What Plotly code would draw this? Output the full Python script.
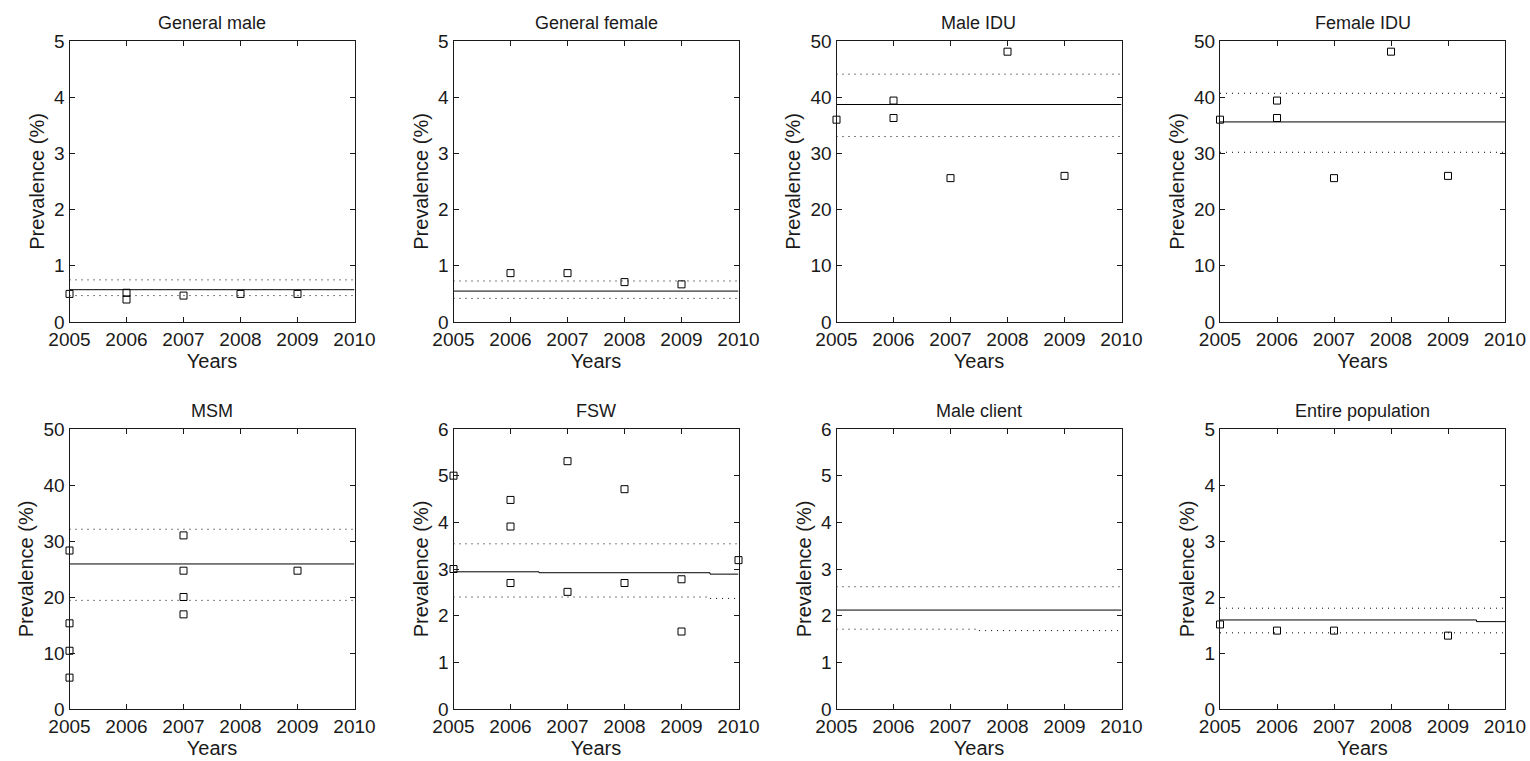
import plotly.graph_objects as go

# ---------------- data ----------------
titles = ["General male", "General female", "Male IDU", "Female IDU",
          "MSM", "FSW", "Male client", "Entire population"]

# observed prevalence points (year, value)
gm_years = [2005, 2006, 2006, 2007, 2008, 2009]
gm_vals = [0.50, 0.52, 0.40, 0.47, 0.50, 0.50]

gf_years = [2006, 2007, 2008, 2009]
gf_vals = [0.87, 0.87, 0.71, 0.67]

midu_years = [2005, 2006, 2006, 2007, 2008, 2009]
midu_vals = [36.0, 39.4, 36.3, 25.6, 48.1, 26.0]

fidu_years = [2005, 2006, 2006, 2007, 2008, 2009]
fidu_vals = [36.0, 39.4, 36.3, 25.6, 48.1, 26.0]

msm_years = [2005, 2005, 2005, 2005, 2007, 2007, 2007, 2007, 2009]
msm_vals = [28.3, 15.3, 10.4, 5.6, 31.0, 24.7, 20.0, 16.9, 24.7]

fsw_years = [2005, 2005, 2006, 2006, 2006, 2007, 2007, 2008, 2008, 2009, 2009, 2010]
fsw_vals = [5.0, 3.0, 4.48, 3.91, 2.70, 5.31, 2.51, 4.71, 2.70, 2.78, 1.66, 3.19]

mc_years = []
mc_vals = []

ep_years = [2005, 2006, 2007, 2009]
ep_vals = [1.51, 1.40, 1.40, 1.31]

# model fit (median and bounds), step-wise in time
gm_fit_x = [2005, 2010]
gm_mid = [0.575, 0.575]
gm_hi = [0.75, 0.75]
gm_lo = [0.47, 0.47]

gf_fit_x = [2005, 2010]
gf_mid = [0.55, 0.55]
gf_hi = [0.73, 0.73]
gf_lo = [0.42, 0.42]

midu_fit_x = [2005, 2010]
midu_mid = [38.7, 38.7]
midu_hi = [44.1, 44.1]
midu_lo = [33.0, 33.0]

fidu_fit_x = [2005, 2010]
fidu_mid = [35.6, 35.6]
fidu_hi = [40.7, 40.7]
fidu_lo = [30.2, 30.2]

msm_fit_x = [2005, 2010]
msm_mid = [25.9, 25.9]
msm_hi = [32.1, 32.1]
msm_lo = [19.4, 19.4]

fsw_fit_x = [2005, 2006.5, 2009.5, 2010]
fsw_mid = [2.94, 2.92, 2.89, 2.89]
fsw_hi = [3.54, 3.54, 3.54, 3.54]
fsw_lo = [2.40, 2.40, 2.37, 2.37]

mc_fit_x = [2005, 2007.5, 2010]
mc_mid = [2.12, 2.12, 2.12]
mc_hi = [2.62, 2.62, 2.62]
mc_lo = [1.71, 1.68, 1.68]

ep_fit_x = [2005, 2009.5, 2010]
ep_mid = [1.59, 1.56, 1.56]
ep_hi = [1.80, 1.80, 1.80]
ep_lo = [1.36, 1.36, 1.36]

y_max = [5, 5, 50, 50, 50, 6, 6, 5]
y_step = [1, 1, 10, 10, 10, 1, 1, 1]
x_ticks = [2005, 2006, 2007, 2008, 2009, 2010]

panels = [
    (gm_years, gm_vals, gm_fit_x, gm_mid, gm_hi, gm_lo),
    (gf_years, gf_vals, gf_fit_x, gf_mid, gf_hi, gf_lo),
    (midu_years, midu_vals, midu_fit_x, midu_mid, midu_hi, midu_lo),
    (fidu_years, fidu_vals, fidu_fit_x, fidu_mid, fidu_hi, fidu_lo),
    (msm_years, msm_vals, msm_fit_x, msm_mid, msm_hi, msm_lo),
    (fsw_years, fsw_vals, fsw_fit_x, fsw_mid, fsw_hi, fsw_lo),
    (mc_years, mc_vals, mc_fit_x, mc_mid, mc_hi, mc_lo),
    (ep_years, ep_vals, ep_fit_x, ep_mid, ep_hi, ep_lo),
]

# ---------------- layout ----------------
W, H = 1530, 761
col_px = [(69.5, 354.5), (453.5, 738.5), (836.5, 1121.5), (1220, 1505)]
row_px = [(41, 322), (429, 709)]

FONT = "Liberation Sans, Arial, Helvetica, sans-serif"
INK = "#1a1a1a"

fig = go.Figure()
layout = dict(
    width=W, height=H,
    margin=dict(l=0, r=0, t=0, b=0, autoexpand=False),
    paper_bgcolor="white", plot_bgcolor="white",
    showlegend=False,
    font=dict(family=FONT, size=19, color=INK),
    annotations=[],
)

for i, (yrs, vals, fx, fmid, fhi, flo) in enumerate(panels):
    r, c = divmod(i, 4)
    n = "" if i == 0 else str(i + 1)
    xa, ya = "x" + n, "y" + n
    x0, x1 = col_px[c]
    t0, t1 = row_px[r]

    for arr, dash in ((fhi, "1px,5px"), (flo, "1px,5px"), (fmid, "solid")):
        fig.add_trace(go.Scatter(
            x=fx, y=arr, mode="lines", line_shape="hv",
            line=dict(color="black", width=1, dash=dash),
            xaxis=xa, yaxis=ya, hoverinfo="skip"))
    if yrs:
        fig.add_trace(go.Scatter(
            x=yrs, y=vals, mode="markers", cliponaxis=False,
            marker=dict(symbol="square-open", size=7,
                        color="black", line=dict(color="black", width=1)),
            xaxis=xa, yaxis=ya))

    axis_common = dict(
        showline=True, linecolor=INK, linewidth=1, mirror="ticks",
        ticks="inside", ticklen=5, tickcolor=INK, tickwidth=1,
        showgrid=False, zeroline=False, automargin=False,
        tickfont=dict(family=FONT, size=19, color=INK),
    )
    layout["xaxis" + n] = dict(
        axis_common,
        domain=[x0 / W, x1 / W], anchor=ya,
        range=[2005, 2010], tickvals=x_ticks,
        ticktext=[str(v) for v in x_ticks],
        ticklabelstandoff=0,
        title=dict(text="Years", font=dict(size=20, color=INK), standoff=1),
    )
    layout["yaxis" + n] = dict(
        axis_common,
        domain=[1 - t1 / H, 1 - t0 / H], anchor=xa,
        range=[0, y_max[i]], dtick=y_step[i], tick0=0,
        title=dict(text="Prevalence (%)", font=dict(size=20, color=INK), standoff=4),
    )
    layout["annotations"].append(dict(
        text=titles[i], xref=xa + " domain", yref=ya + " domain",
        x=0.5, y=1, xanchor="center", yanchor="bottom", yshift=6,
        showarrow=False, font=dict(family=FONT, size=18, color=INK)))

fig.update_layout(**layout)
fig.write_html(
    "out.html",
    config={"displayModeBar": False},
    post_script="document.body.style.margin='0';document.body.style.overflow='hidden';",
)
